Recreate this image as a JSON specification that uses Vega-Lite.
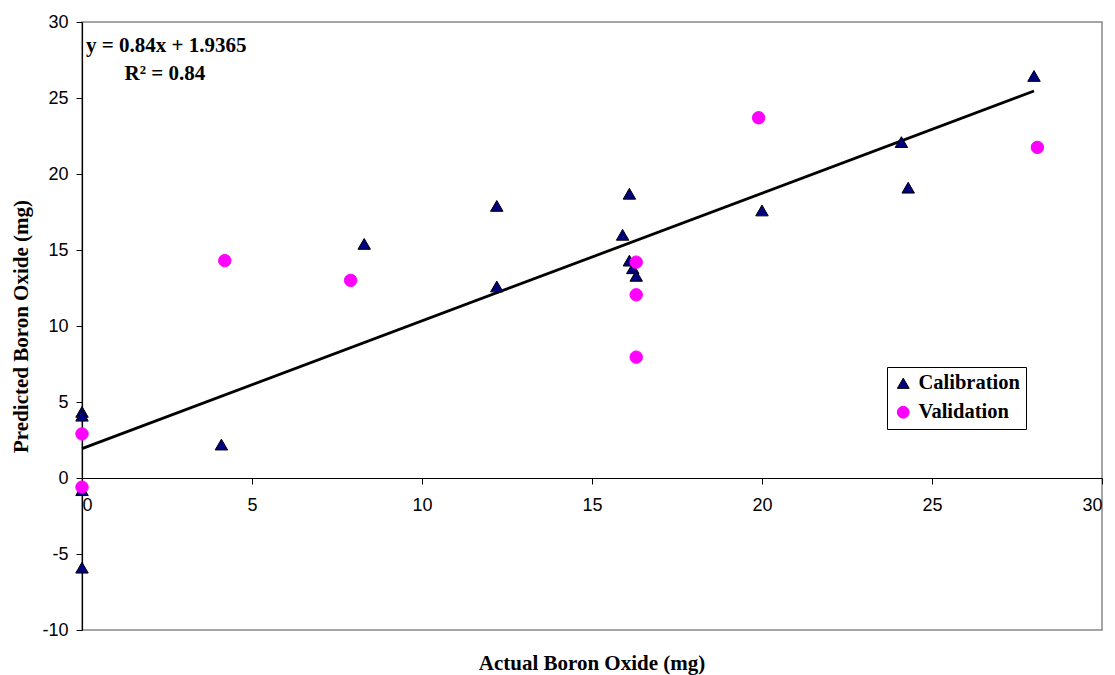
{
  "$schema": "https://vega.github.io/schema/vega-lite/v6.json",
  "width": 1020,
  "height": 608,
  "autosize": "none",
  "padding": {"left": 82, "top": 22, "right": 13, "bottom": 45},
  "background": "white",
  "view": {"stroke": "#888888", "strokeWidth": 1.5},
  "config": {
    "axis": {"grid": false, "labelFont": "Liberation Sans", "labelFontSize": 18, "labelColor": "black", "domainColor": "black", "tickColor": "black", "tickSize": 6, "domainWidth": 1.2, "labelExpr": "datum.value"}
  },
  "title": {"text": "Actual Boron Oxide (mg)", "orient": "bottom", "anchor": "middle", "frame": "group", "font": "Liberation Serif", "fontSize": 21, "fontWeight": "bold", "color": "black", "offset": 14},
  "datasets": {
    "points": [
      {"actual": 0, "predicted": 4.35, "series": "Calibration"},
      {"actual": 0, "predicted": 4.1, "series": "Calibration"},
      {"actual": 0, "predicted": -0.8, "series": "Calibration"},
      {"actual": 0, "predicted": -5.9, "series": "Calibration"},
      {"actual": 4.1, "predicted": 2.2, "series": "Calibration"},
      {"actual": 8.3, "predicted": 15.4, "series": "Calibration"},
      {"actual": 12.2, "predicted": 17.9, "series": "Calibration"},
      {"actual": 12.2, "predicted": 12.6, "series": "Calibration"},
      {"actual": 15.9, "predicted": 16.0, "series": "Calibration"},
      {"actual": 16.1, "predicted": 18.7, "series": "Calibration"},
      {"actual": 16.1, "predicted": 14.3, "series": "Calibration"},
      {"actual": 16.2, "predicted": 13.8, "series": "Calibration"},
      {"actual": 16.3, "predicted": 13.3, "series": "Calibration"},
      {"actual": 20.0, "predicted": 17.6, "series": "Calibration"},
      {"actual": 24.1, "predicted": 22.1, "series": "Calibration"},
      {"actual": 24.3, "predicted": 19.1, "series": "Calibration"},
      {"actual": 28.0, "predicted": 26.45, "series": "Calibration"},
      {"actual": 0, "predicted": 2.9, "series": "Validation"},
      {"actual": 0, "predicted": -0.6, "series": "Validation"},
      {"actual": 4.2, "predicted": 14.3, "series": "Validation"},
      {"actual": 7.9, "predicted": 13.0, "series": "Validation"},
      {"actual": 16.3, "predicted": 14.2, "series": "Validation"},
      {"actual": 16.3, "predicted": 12.05, "series": "Validation"},
      {"actual": 16.3, "predicted": 7.95, "series": "Validation"},
      {"actual": 19.9, "predicted": 23.7, "series": "Validation"},
      {"actual": 28.1, "predicted": 21.75, "series": "Validation"}
    ],
    "trend": [
      {"actual": 0, "predicted": 1.9365},
      {"actual": 28, "predicted": 25.4565}
    ],
    "labels": [
      {"actual": 0.12, "predicted": 28.45, "text": "y = 0.84x + 1.9365"},
      {"actual": 1.25, "predicted": 26.6, "text": "R² = 0.84"}
    ]
  },
  "layer": [
    {
      "data": {"name": "trend"},
      "mark": {"type": "line", "color": "black", "strokeWidth": 2.8},
      "encoding": {
        "x": {"field": "actual", "type": "quantitative", "scale": {"domain": [0, 30], "nice": false}, "axis": {"values": [0, 5, 10, 15, 20, 25, 30], "offset": -152, "title": null, "labelPadding": 12}},
        "y": {"field": "predicted", "type": "quantitative", "scale": {"domain": [-10, 30], "nice": false}, "axis": {"values": [-10, -5, 0, 5, 10, 15, 20, 25, 30], "title": "Predicted Boron Oxide (mg)", "titleFont": "Liberation Serif", "titleFontSize": 21, "titleFontWeight": "bold", "titleColor": "black", "titlePadding": 10, "labelPadding": 8}}
      }
    },
    {
      "data": {"name": "points"},
      "mark": {"type": "point", "filled": true, "opacity": 1, "strokeWidth": 1},
      "encoding": {
        "x": {"field": "actual", "type": "quantitative"},
        "y": {"field": "predicted", "type": "quantitative"},
        "shape": {"field": "series", "type": "nominal", "scale": {"domain": ["Calibration", "Validation"], "range": ["triangle-up", "circle"]}, "legend": {"title": null, "orient": "none", "legendX": 805, "legendY": 345, "labelFont": "Liberation Serif", "labelFontSize": 20.5, "labelFontWeight": "bold", "labelColor": "black", "labelOffset": 5, "strokeColor": "black", "fillColor": "white", "padding": 6, "rowPadding": 8, "symbolSize": 140, "symbolStrokeWidth": 1}},
        "fill": {"field": "series", "type": "nominal", "scale": {"domain": ["Calibration", "Validation"], "range": ["#000080", "#FF00FF"]}, "legend": {"title": null, "orient": "none", "legendX": 805, "legendY": 345}},
        "stroke": {"field": "series", "type": "nominal", "scale": {"domain": ["Calibration", "Validation"], "range": ["#000000", "#FF00FF"]}, "legend": {"title": null, "orient": "none", "legendX": 805, "legendY": 345}},
        "size": {"value": 155}
      }
    },
    {
      "data": {"name": "labels"},
      "mark": {"type": "text", "align": "left", "baseline": "middle", "font": "Liberation Serif", "fontSize": 21, "fontWeight": "bold", "color": "black"},
      "encoding": {
        "x": {"field": "actual", "type": "quantitative"},
        "y": {"field": "predicted", "type": "quantitative"},
        "text": {"field": "text"}
      }
    }
  ]
}
